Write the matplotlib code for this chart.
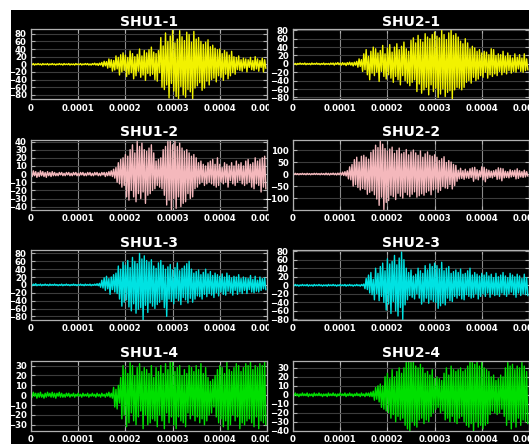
import matplotlib
matplotlib.use("Agg")
import matplotlib.pyplot as plt
import numpy as np
from matplotlib.patches import Rectangle
from matplotlib.ticker import MultipleLocator

# sample step of the recorded traces (seconds)
dt = 2.5e-6

titles = ["SHU1-1", "SHU2-1", "SHU1-2", "SHU2-2",
          "SHU1-3", "SHU2-3", "SHU1-4", "SHU2-4"]
colors = ["#f2f200", "#f2f200", "#f4b8bc", "#f4b8bc",
          "#00e2e2", "#00e2e2", "#00e000", "#00e000"]
ylims = [(-92, 91), (-85, 82), (-44, 42), (-149, 142),
         (-90, 88), (-82, 82), (-36, 35), (-40, 38)]
ysteps = [20, 20, 10, 50, 20, 20, 10, 10]
xticks = [0, 0.0001, 0.0002, 0.0003, 0.0004, 0.0005]
xtick_labels = ["0", "0.0001", "0.0002", "0.0003", "0.0004", "0.0005"]

shu1_1 = [1, -1, 2, -2, 1, -1, 2, -1, 1, -2, 2, -1, 1, -1, 2, -2, 1, -1, 2, -1,
          1, -2, 1, -1, 2, -1, 1, -2, 2, -1, 1, -1, 2, -2, 1, -1, 1, -2, 2, -1,
          1, -1, 2, -2, 1, -1, 2, -1, 2, -2, 1, -2, 2, -1, 3, -2, 2, -3, 3, -2,
          5, -6, 8, -4, 7, -10, 14, -8, 12, -18, 10, -15, 22, -12, 18, -28, 25, -20, 30, -16,
          24, -32, 18, -26, 35, -22, 28, -38, 20, -30, 26, -18, 40, -34, 22, -28, 36, -42, 30, -24,
          38, -30, 45, -26, 32, -40, 28, -44, 36, -22, 70, -60, 48, -66, 82, -54, 60, -88, 74, -50,
          90, -70, 56, -84, 66, -90, 88, -58, 72, -80, 62, -86, 84, -66, 78, -72, 58, -90, 86, -62,
          66, -56, 70, -48, 60, -68, 52, -62, 58, -44, 64, -54, 46, -40, 50, -36, 42, -46, 38, -30,
          40, -34, 28, -42, 36, -26, 32, -38, 24, -30, 34, -22, 20, -26, 18, -14, 22, -16, 12, -18,
          16, -10, 14, -20, 12, -8, 18, -14, 10, -16, 20, -12, 14, -18, 10, -8, 16, -20, 12, -10]

shu2_1 = [1, -1, 1, -2, 1, -1, 2, -1, 1, -1, 2, -2, 1, -1, 1, -2, 2, -1, 1, -1,
          2, -1, 1, -2, 1, -1, 2, -2, 1, -1, 1, -2, 2, -1, 2, -3, 2, -1, 3, -2,
          2, -3, 3, -2, 2, -4, 3, -2, 4, -3, 3, -5, 4, -3, 6, -8, 12, -6, 10, -18,
          24, -14, 34, -26, 18, -38, 30, -22, 40, -28, 36, -20, 26, -42, 32, -18, 44, -30, 24, -36,
          38, -26, 46, -34, 28, -44, 40, -30, 48, -38, 34, -50, 42, -28, 52, -40, 36, -46, 30, -52,
          56, -44, 62, -38, 50, -66, 68, -48, 58, -70, 52, -62, 72, -56, 64, -74, 60, -50, 70, -66,
          76, -58, 66, -80, 62, -72, 80, -60, 70, -78, 58, -68, 74, -64, 82, -84, 68, -62, 72, -56,
          64, -58, 54, -62, 48, -56, 60, -44, 50, -40, 36, -46, 42, -32, 38, -40, 30, -36, 34, -28,
          26, -32, 30, -20, 28, -34, 22, -26, 36, -30, 34, -24, 20, -28, 24, -18, 22, -26, 30, -20,
          18, -24, 26, -16, 20, -22, 14, -18, 24, -20, 16, -12, 22, -18, 14, -20, 24, -16, 12, -14]

shu1_2 = [2, -3, 4, -2, 3, -4, 2, -3, 4, -2, 3, -3, 2, -4, 3, -2, 2, -3, 3, -2,
          2, -2, 1, -2, 2, -1, 2, -2, 1, -2, 2, -1, 2, -2, 1, -2, 2, -1, 2, -2,
          1, -2, 2, -1, 2, -2, 1, -2, 2, -1, 2, -2, 1, -2, 2, -1, 2, -2, 1, -2,
          2, -1, 2, -3, 2, -2, 3, -2, 4, -3, 6, -5, 8, -10, 14, -12, 18, -16, 20, -14,
          24, -28, 22, -32, 30, -20, 36, -28, 26, -34, 40, -24, 34, -30, 38, -22, 30, -36, 28, -26,
          32, -24, 36, -20, 26, -18, 16, -14, 18, -16, 20, -18, 30, -26, 34, -38, 40, -32, 42, -44,
          36, -30, 40, -42, 34, -28, 38, -40, 32, -36, 28, -34, 30, -24, 26, -30, 22, -28, 24, -18,
          20, -16, 14, -12, 16, -10, 12, -14, 10, -12, 14, -10, 16, -12, 18, -14, 12, -16, 20, -14,
          12, -10, 8, -12, 14, -10, 12, -16, 10, -8, 14, -12, 10, -14, 16, -10, 12, -8, 14, -12,
          10, -14, 16, -12, 18, -10, 12, -16, 14, -18, 20, -12, 16, -14, 18, -22, 20, -16, 22, -18]

shu2_2 = [2, -2, 3, -2, 2, -3, 2, -2, 3, -2, 2, -3, 3, -2, 2, -3, 2, -2, 3, -2,
          3, -2, 2, -3, 3, -2, 2, -3, 4, -3, 3, -4, 3, -2, 4, -3, 3, -4, 4, -3,
          5, -4, 8, -6, 10, -8, 14, -20, 30, -24, 40, -50, 60, -44, 70, -56, 50, -66, 74, -60,
          78, -64, 70, -84, 62, -76, 90, -70, 100, -86, 120, -104, 110, -130, 140, -96, 124, -148, 106, -118,
          96, -110, 104, -88, 112, -94, 86, -106, 98, -80, 108, -92, 84, -100, 90, -76, 102, -86, 80, -94,
          92, -84, 100, -74, 88, -96, 78, -90, 96, -82, 70, -88, 84, -76, 92, -70, 78, -86, 74, -66,
          80, -62, 70, -76, 56, -68, 64, -52, 72, -58, 48, -60, 56, -44, 50, -62, 40, -48, 36, -30,
          16, -20, 24, -18, 14, -22, 20, -16, 12, -18, 22, -14, 26, -30, 28, -20, 18, -24, 14, -12,
          30, -24, 28, -32, 20, -18, 16, -14, 12, -16, 14, -10, 18, -22, 26, -20, 24, -28, 22, -16,
          12, -14, 10, -16, 18, -12, 14, -10, 16, -20, 22, -18, 14, -12, 10, -14, 16, -12, 10, -8]

shu1_3 = [1, -2, 2, -1, 3, -2, 1, -1, 2, -2, 1, -1, 2, -1, 1, -2, 2, -1, 1, -1,
          2, -1, 1, -2, 1, -1, 2, -2, 1, -1, 2, -1, 1, -2, 1, -1, 2, -1, 1, -2,
          1, -1, 2, -1, 1, -2, 2, -1, 1, -1, 2, -2, 1, -1, 2, -1, 3, -2, 4, -6,
          12, -8, 18, -14, 22, -10, 16, -24, 20, -12, 26, -18, 30, -22, 48, -36, 40, -54, 58, -44,
          50, -38, 62, -56, 44, -66, 70, -48, 60, -72, 54, -62, 80, -58, 66, -90, 74, -52, 62, -70,
          58, -46, 64, -54, 48, -60, 42, -50, 56, -44, 62, -38, 50, -58, 40, -80, 46, -36, 52, -42,
          38, -48, 44, -34, 56, -40, 36, -50, 42, -32, 48, -38, 54, -46, 60, -34, 40, -44, 30, -36,
          34, -28, 38, -30, 26, -36, 32, -24, 40, -30, 28, -22, 34, -26, 24, -32, 30, -20, 26, -28,
          22, -18, 28, -24, 20, -26, 30, -16, 24, -20, 18, -26, 22, -14, 20, -24, 26, -18, 16, -22,
          20, -14, 18, -22, 16, -12, 24, -18, 14, -20, 22, -16, 12, -18, 20, -14, 16, -10, 18, -12]

shu2_3 = [1, -1, 2, -1, 1, -2, 1, -1, 2, -1, 1, -1, 2, -2, 1, -1, 1, -2, 2, -1,
          1, -1, 2, -1, 1, -2, 1, -1, 1, -2, 2, -1, 1, -1, 2, -1, 1, -2, 1, -1,
          2, -1, 1, -1, 2, -2, 1, -1, 2, -1, 1, -2, 1, -1, 2, -1, 1, -2, 2, -1,
          3, -8, 16, -10, 24, -18, 30, -22, 14, -34, 40, -20, 28, -36, 44, -26, 52, -40, 34, -58,
          62, -44, 50, -66, 56, -38, 70, -60, 48, -72, 64, -52, 78, -80, 60, -46, 40, -34, 30, -24,
          36, -28, 22, -32, 26, -20, 40, -30, 34, -44, 28, -38, 46, -30, 36, -42, 50, -34, 44, -38,
          52, -40, 46, -54, 38, -48, 54, -42, 34, -46, 40, -30, 44, -36, 28, -38, 32, -26, 36, -30,
          30, -24, 38, -32, 26, -34, 28, -22, 34, -26, 40, -30, 24, -28, 30, -20, 26, -32, 22, -26,
          28, -20, 24, -26, 30, -18, 22, -28, 26, -20, 18, -24, 28, -22, 20, -26, 24, -18, 30, -22,
          22, -26, 18, -20, 28, -16, 24, -22, 20, -28, 26, -18, 22, -24, 16, -20, 26, -22, 18, -24]

shu1_4 = [2, -2, 3, -1, 2, -3, 2, -2, 3, -2, 1, -3, 2, -2, 3, -1, 2, -2, 3, -2,
          2, -3, 2, -1, 3, -2, 2, -2, 1, -2, 2, -1, 2, -2, 1, -1, 2, -2, 1, -1,
          2, -1, 1, -2, 2, -1, 1, -1, 2, -2, 1, -1, 2, -1, 1, -2, 2, -1, 1, -2,
          2, -1, 1, -2, 2, -1, 3, -2, 2, -3, 8, -12, 6, -14, 10, -8, 18, -24, 30, -20,
          26, -32, 22, -28, 33, -18, 30, -26, 20, -30, 28, -22, 32, -16, 24, -34, 28, -20, 26, -30,
          22, -28, 30, -24, 18, -26, 28, -32, 24, -20, 30, -26, 22, -34, 32, -18, 26, -28, 34, -22,
          35, -30, 24, -34, 28, -22, 30, -26, 20, -28, 26, -32, 22, -18, 30, -24, 28, -20, 24, -26,
          30, -22, 26, -28, 32, -24, 22, -30, 28, -26, 18, -20, 14, -18, 16, -12, 20, -22, 26, -28,
          30, -24, 28, -32, 22, -26, 34, -35, 26, -30, 24, -20, 28, -26, 32, -22, 30, -34, 24, -28,
          28, -30, 32, -26, 30, -24, 34, -28, 26, -32, 30, -22, 28, -34, 32, -26, 30, -28, 34, -30]

shu2_4 = [1, -1, 2, -1, 1, -2, 1, -1, 2, -1, 1, -1, 2, -2, 1, -1, 1, -2, 2, -1,
          1, -1, 2, -1, 1, -2, 1, -1, 1, -2, 2, -1, 1, -1, 2, -1, 1, -2, 1, -1,
          2, -1, 1, -1, 2, -2, 1, -1, 2, -1, 1, -2, 1, -1, 2, -1, 1, -2, 2, -1,
          1, -2, 2, -1, 2, -2, 3, -2, 4, -6, 8, -5, 10, -8, 12, -14, 10, -16, 20, -18,
          24, -20, 18, -26, 28, -22, 20, -30, 26, -24, 30, -28, 24, -26, 30, -34, 36, -38, 38, -40,
          36, -30, 38, -34, 32, -36, 30, -28, 34, -26, 30, -32, 24, -28, 26, -30, 22, -24, 28, -20,
          18, -16, 20, -14, 18, -20, 16, -18, 24, -28, 30, -26, 22, -30, 32, -24, 28, -30, 26, -32,
          28, -26, 30, -24, 26, -30, 28, -34, 32, -36, 38, -32, 36, -40, 34, -30, 38, -36, 32, -34,
          36, -38, 30, -34, 28, -32, 26, -22, 20, -18, 22, -20, 16, -22, 18, -20, 22, -16, 20, -24,
          30, -34, 36, -28, 32, -38, 34, -30, 28, -36, 32, -26, 30, -34, 36, -28, 32, -30, 26, -32]

traces = [shu1_1, shu2_1, shu1_2, shu2_2, shu1_3, shu2_3, shu1_4, shu2_4]

W, H = 529, 444
fig = plt.figure(figsize=(W / 100, H / 100), dpi=100, facecolor="white")
# black backdrop (white strip on the top and left edge)
fig.add_artist(Rectangle((11 / W, 0), 1, 1 - 10 / H, transform=fig.transFigure,
                         facecolor="black", edgecolor="none", zorder=-5))
# right column covers the clipped left plots
fig.add_artist(Rectangle((268.5 / W, 0), 1, 1 - 10 / H, transform=fig.transFigure,
                         facecolor="black", edgecolor="none", zorder=1))

tick_font = dict(family="DejaVu Sans", stretch="condensed", weight="bold", size=6.8)
col_left = [31, 293]
ax_w, ax_h = 236, 70

for i, (vals, title) in enumerate(zip(traces, titles)):
    row, col = divmod(i, 2)
    top = 29.5 + 110.4 * row
    ax = fig.add_axes([col_left[col] / W, (H - top - ax_h) / H, ax_w / W, ax_h / H])
    ax.set_zorder(0 if col == 0 else 2)
    ax.set_facecolor("black")
    t = np.arange(len(vals)) * dt
    ax.plot(t, vals, color=colors[i], lw=1.0)
    ax.set_xlim(0, 0.0005)
    ax.set_ylim(*ylims[i])
    ax.set_xticks(xticks)
    ax.set_xticklabels(xtick_labels)
    ax.yaxis.set_major_locator(MultipleLocator(ysteps[i]))
    ax.set_title(title, color="white", fontsize=10, fontweight="bold", pad=2.5)
    ax.tick_params(direction="in", length=3, colors="#b0b0b0", top=True, right=True,
                   labelcolor="white", pad=3)
    for lab in ax.get_xticklabels() + ax.get_yticklabels():
        lab.set_fontproperties(tick_font)
    ax.xaxis.grid(True, color="#8a8a8a", lw=0.8)
    ax.yaxis.grid(True, color="#3c3c3c", lw=0.8)
    ax.set_axisbelow(True)
    for sp in ax.spines.values():
        sp.set_color("#b0b0b0")
        sp.set_linewidth(0.9)

fig.savefig("out.png", dpi=100, facecolor="white")
